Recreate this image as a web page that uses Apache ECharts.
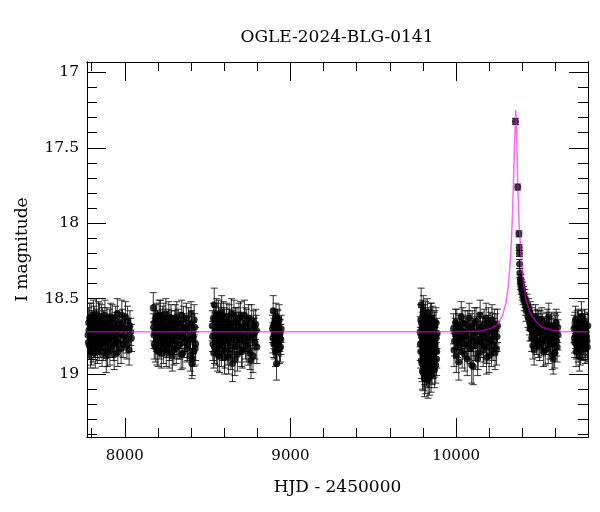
<!DOCTYPE html>
<html>
<head>
<meta charset="utf-8">
<title>OGLE-2024-BLG-0141</title>
<script src="https://cdn.jsdelivr.net/npm/echarts@6/dist/echarts.min.js"></script>
<style>
  html, body { margin: 0; padding: 0; background: #fff; }
  #chart { width: 600px; height: 512px; }
</style>
</head>
<body>
<div id="chart"></div>
<script type="text/javascript">
// photometry: [HJD-2450000, I mag, error]
var season1 = [[7778,18.74,0.09],[7782,18.66,0.10],[7786,18.81,0.09],[7790,18.70,0.08],[7794,18.86,0.10],[7797,18.62,0.09],[7801,18.76,0.08],[7805,18.69,0.10],[7809,18.83,0.09],[7812,18.72,0.08],[7816,18.64,0.09],[7820,18.79,0.10],[7824,18.71,0.08],[7828,18.60,0.10],[7832,18.77,0.09],[7836,18.84,0.09],[7840,18.68,0.08],[7844,18.74,0.09],[7848,18.63,0.10],[7853,18.80,0.09],[7857,18.70,0.08],[7861,18.75,0.09],[7866,18.66,0.10],[7870,18.82,0.09],[7875,18.72,0.08],[7880,18.61,0.10],[7885,18.78,0.09],[7890,18.69,0.08],[7896,18.85,0.10],[7901,18.73,0.09],[7907,18.65,0.08],[7912,18.80,0.09],[7918,18.71,0.10],[7924,18.63,0.09],[7930,18.77,0.08],[7936,18.87,0.10],[7942,18.68,0.09],[7948,18.74,0.08],[7955,18.60,0.10],[7962,18.79,0.09],[7970,18.70,0.08],[7978,18.83,0.10],[7986,18.66,0.09],[7995,18.75,0.09],[8004,18.62,0.10],[8013,18.81,0.09],[8022,18.71,0.08],[8031,18.68,0.10],[8040,18.76,0.09],
  [7780,18.79,0.10],[7784,18.71,0.09],[7788,18.63,0.10],[7792,18.77,0.09],[7799,18.84,0.10],[7803,18.67,0.09],[7807,18.73,0.09],[7811,18.61,0.10],[7814,18.80,0.09],[7818,18.70,0.08],[7822,18.86,0.10],[7826,18.74,0.09],[7830,18.66,0.09],[7834,18.72,0.08],[7838,18.78,0.09],[7842,18.62,0.10],[7846,18.82,0.09],[7851,18.69,0.09],[7855,18.76,0.08],[7859,18.64,0.10],[7863,18.85,0.10],[7868,18.71,0.09],[7872,18.67,0.09],[7878,18.79,0.09],[7883,18.73,0.08],[7888,18.88,0.11],[7893,18.65,0.09],[7899,18.77,0.09],[7904,18.70,0.08],[7910,18.84,0.10],[7915,18.62,0.09],[7921,18.75,0.09],[7927,18.69,0.08],[7933,18.81,0.10],[7939,18.72,0.09],[7945,18.64,0.09],[7951,18.78,0.09],[7958,18.85,0.10],[7966,18.67,0.09],[7974,18.73,0.09],[7982,18.61,0.10],[7990,18.80,0.09],[7999,18.70,0.09],[8008,18.77,0.09],[8017,18.65,0.10],[8026,18.84,0.10],[8036,18.72,0.09]];
var season2 = [[8172,18.56,0.10],[8176,18.74,0.09],[8180,18.66,0.08],[8184,18.82,0.10],[8188,18.70,0.09],[8193,18.62,0.09],[8197,18.77,0.08],[8201,18.85,0.10],[8206,18.68,0.09],[8210,18.73,0.08],[8215,18.61,0.10],[8219,18.79,0.09],[8224,18.71,0.08],[8229,18.64,0.09],[8233,18.83,0.10],[8238,18.69,0.08],[8243,18.76,0.09],[8248,18.60,0.10],[8253,18.80,0.09],[8258,18.72,0.08],[8263,18.66,0.09],[8268,18.86,0.10],[8274,18.70,0.08],[8279,18.63,0.09],[8285,18.78,0.09],[8290,18.74,0.08],[8296,18.84,0.10],[8302,18.67,0.09],[8308,18.71,0.08],[8314,18.62,0.10],[8320,18.81,0.09],[8326,18.75,0.08],[8333,18.68,0.09],[8340,18.87,0.10],[8347,18.73,0.08],[8354,18.64,0.09],[8361,18.79,0.10],[8368,18.70,0.08],[8376,18.83,0.09],[8384,18.66,0.10],[8392,18.77,0.09],[8400,18.60,0.08],[8405,18.93,0.10],[8410,18.74,0.09],[8416,18.85,0.10],[8422,18.69,0.09],[8428,18.80,0.11],
  [8174,18.69,0.09],[8178,18.80,0.10],[8182,18.72,0.09],[8186,18.63,0.09],[8191,18.76,0.09],[8195,18.84,0.10],[8199,18.67,0.09],[8203,18.74,0.09],[8208,18.61,0.10],[8212,18.81,0.09],[8217,18.70,0.09],[8221,18.86,0.10],[8226,18.66,0.09],[8231,18.75,0.09],[8236,18.63,0.10],[8240,18.79,0.09],[8245,18.71,0.09],[8250,18.85,0.10],[8255,18.68,0.09],[8260,18.77,0.09],[8266,18.62,0.10],[8271,18.82,0.09],[8276,18.73,0.09],[8282,18.67,0.09],[8287,18.88,0.10],[8293,18.70,0.09],[8299,18.78,0.09],[8305,18.64,0.10],[8311,18.83,0.10],[8317,18.72,0.09],[8323,18.66,0.09],[8330,18.80,0.10],[8337,18.74,0.09],[8344,18.61,0.10],[8350,18.86,0.10],[8357,18.69,0.09],[8364,18.76,0.09],[8372,18.63,0.10],[8380,18.81,0.10],[8388,18.71,0.09],[8396,18.88,0.10],[8403,18.67,0.09],[8408,18.90,0.11],[8413,18.76,0.10],[8419,18.64,0.10],[8425,18.83,0.11]];
var season3 = [[8528,18.68,0.10],[8532,18.80,0.11],[8537,18.86,0.10],[8540,18.54,0.11],[8544,18.73,0.10],[8548,18.64,0.09],[8553,18.83,0.11],[8557,18.70,0.10],[8562,18.76,0.09],[8566,18.61,0.10],[8571,18.88,0.11],[8575,18.69,0.10],[8580,18.74,0.09],[8585,18.59,0.11],[8590,18.81,0.10],[8595,18.72,0.09],[8600,18.66,0.10],[8605,18.85,0.11],[8611,18.70,0.10],[8616,18.62,0.09],[8622,18.78,0.10],[8627,18.89,0.11],[8633,18.67,0.10],[8638,18.74,0.09],[8644,18.60,0.10],[8650,18.93,0.12],[8656,18.71,0.10],[8662,18.82,0.10],[8668,18.65,0.09],[8674,18.77,0.10],[8680,18.87,0.11],[8686,18.69,0.10],[8692,18.73,0.09],[8699,18.62,0.10],[8705,18.84,0.11],[8712,18.70,0.10],[8719,18.76,0.09],[8726,18.66,0.10],[8733,18.81,0.11],[8740,18.72,0.10],[8748,18.63,0.09],[8755,18.86,0.11],[8762,18.91,0.12],[8770,18.74,0.10],[8778,18.68,0.10],[8786,18.79,0.11],[8794,18.71,0.10],
  [8530,18.75,0.10],[8535,18.63,0.10],[8542,18.82,0.11],[8546,18.69,0.10],[8551,18.77,0.10],[8555,18.60,0.10],[8560,18.87,0.11],[8564,18.72,0.10],[8569,18.66,0.10],[8573,18.80,0.10],[8578,18.63,0.10],[8583,18.84,0.11],[8588,18.70,0.10],[8592,18.77,0.10],[8597,18.62,0.10],[8602,18.89,0.11],[8608,18.74,0.10],[8613,18.67,0.10],[8619,18.83,0.11],[8624,18.71,0.10],[8630,18.64,0.10],[8635,18.79,0.10],[8641,18.86,0.11],[8647,18.68,0.10],[8653,18.75,0.10],[8659,18.61,0.10],[8665,18.90,0.11],[8671,18.72,0.10],[8677,18.66,0.10],[8683,18.81,0.11],[8689,18.63,0.10],[8696,18.77,0.10],[8702,18.69,0.10],[8709,18.85,0.11],[8716,18.73,0.10],[8722,18.61,0.10],[8729,18.79,0.11],[8736,18.67,0.10],[8744,18.83,0.11],[8751,18.71,0.10],[8758,18.76,0.10],[8766,18.64,0.10],[8774,18.88,0.11],[8782,18.73,0.10],[8790,18.67,0.10],[8797,18.82,0.11]];
var season4 = [[8892,18.70,0.09],[8896,18.58,0.10],[8899,18.80,0.09],[8903,18.66,0.09],[8906,18.74,0.10],[8910,18.85,0.10],[8913,18.62,0.09],[8916,18.93,0.11],[8920,18.72,0.09],[8924,18.68,0.10],[8928,18.79,0.09],[8932,18.64,0.10],[8936,18.76,0.09],[8940,18.82,0.10],[8944,18.70,0.09],
  [8894,18.76,0.10],[8898,18.68,0.09],[8901,18.73,0.10],[8905,18.80,0.10],[8908,18.69,0.09],[8911,18.77,0.10],[8915,18.71,0.09],[8918,18.84,0.10],[8922,18.66,0.09],[8926,18.75,0.10],[8930,18.71,0.09],[8934,18.83,0.10],[8938,18.73,0.09],[8942,18.77,0.10]];
var season5 = [[9783,18.72,0.10],[9786,18.85,0.11],[9789,18.54,0.11],[9791,18.66,0.10],[9794,18.93,0.12],[9796,18.78,0.10],[9799,18.61,0.10],[9801,18.99,0.12],[9804,18.70,0.10],[9806,18.83,0.11],[9809,19.03,0.12],[9811,18.64,0.10],[9814,18.76,0.10],[9816,18.90,0.11],[9819,18.68,0.10],[9821,18.96,0.12],[9824,18.73,0.10],[9826,18.60,0.10],[9829,18.87,0.11],[9831,19.04,0.12],[9834,18.79,0.10],[9836,18.67,0.10],[9839,18.94,0.12],[9841,18.74,0.10],[9844,18.82,0.11],[9846,18.63,0.10],[9849,19.00,0.12],[9851,18.71,0.10],[9854,18.88,0.11],[9856,18.77,0.10],[9859,18.65,0.10],[9861,18.92,0.11],[9864,18.80,0.10],[9867,18.69,0.10],[9870,18.97,0.12],[9873,18.75,0.10],[9876,18.84,0.11],[9879,18.66,0.10],[9882,18.90,0.11],[9885,18.73,0.10],
  [9784,18.80,0.11],[9787,18.64,0.10],[9790,18.91,0.12],[9792,18.75,0.10],[9795,18.69,0.10],[9797,18.98,0.12],[9800,18.82,0.11],[9802,18.58,0.10],[9805,18.89,0.11],[9807,18.71,0.10],[9810,18.95,0.12],[9812,18.78,0.10],[9815,18.62,0.10],[9817,19.01,0.12],[9820,18.84,0.11],[9822,18.70,0.10],[9825,18.92,0.12],[9827,18.76,0.10],[9830,18.66,0.10],[9832,18.97,0.12],[9835,18.86,0.11],[9837,18.72,0.10],[9840,19.02,0.12],[9842,18.81,0.11],[9845,18.68,0.10],[9847,18.91,0.11],[9850,18.77,0.10],[9852,18.63,0.10],[9855,18.95,0.12],[9857,18.83,0.11],[9860,18.71,0.10],[9862,18.86,0.11],[9865,18.74,0.10],[9868,18.91,0.11],[9871,18.68,0.10],[9874,18.80,0.11],[9877,18.94,0.12],[9880,18.76,0.10],[9883,18.85,0.11]];
var season6 = [[9984,18.70,0.10],[9990,18.78,0.10],[9996,18.66,0.09],[10001,18.88,0.11],[10007,18.74,0.10],[10013,18.82,0.10],[10019,18.69,0.09],[10025,18.77,0.10],[10031,18.62,0.10],[10037,18.85,0.11],[10043,18.72,0.10],[10049,18.80,0.10],[10055,18.67,0.09],[10061,18.75,0.10],[10067,18.90,0.11],[10073,18.71,0.10],[10079,18.63,0.10],[10085,18.83,0.10],[10091,18.76,0.09],[10097,18.68,0.10],[10103,18.95,0.12],[10109,18.73,0.10],[10115,18.81,0.10],[10121,18.65,0.09],[10127,18.78,0.10],[10133,18.86,0.11],[10139,18.70,0.10],[10145,18.61,0.10],[10151,18.79,0.10],[10157,18.74,0.09],[10163,18.84,0.11],[10169,18.67,0.10],[10175,18.76,0.10],[10181,18.63,0.10],[10187,18.82,0.11],[10193,18.71,0.10],[10199,18.88,0.11],[10205,18.69,0.10],[10211,18.77,0.10],[10217,18.64,0.10],[10223,18.80,0.11],[10229,18.73,0.10],[10235,18.86,0.11],[10241,18.70,0.10],[10247,18.75,0.10],[10250,18.68,0.11],
  [9987,18.84,0.11],[9993,18.73,0.10],[10004,18.67,0.10],[10010,18.79,0.10],[10016,18.92,0.12],[10022,18.71,0.10],[10034,18.76,0.10],[10040,18.66,0.10],[10052,18.87,0.11],[10058,18.73,0.10],[10070,18.68,0.10],[10076,18.80,0.10],[10088,18.70,0.10],[10094,18.94,0.12],[10106,18.78,0.10],[10112,18.66,0.10],[10124,18.72,0.10],[10130,18.90,0.11],[10142,18.77,0.10],[10148,18.69,0.10],[10160,18.72,0.10],[10166,18.81,0.11],[10178,18.73,0.10],[10184,18.89,0.11],[10196,18.66,0.10],[10202,18.78,0.10],[10214,18.84,0.11],[10220,18.70,0.10],[10232,18.67,0.10],[10244,18.83,0.11]];
var peakPts = [[10358,17.325,0.02],[10372,17.76,0.02],[10379,18.07,0.02],[10381,18.16,0.02],[10382,18.20,0.02],[10383,18.27,0.03]];
var season7 = [[10385,18.33,0.03],[10387,18.37,0.03],[10389,18.40,0.04],[10391,18.38,0.04],[10393,18.43,0.04],[10395,18.41,0.04],[10398,18.46,0.05],[10401,18.44,0.05],[10404,18.49,0.05],[10407,18.47,0.05],[10411,18.52,0.06],[10415,18.50,0.06],[10419,18.55,0.06],[10423,18.58,0.07],[10428,18.54,0.07],[10433,18.62,0.07],[10438,18.57,0.07],[10443,18.66,0.08],[10448,18.60,0.08],[10453,18.70,0.08],[10458,18.64,0.08],[10463,18.81,0.09],[10468,18.68,0.08],[10474,18.74,0.09],[10480,18.62,0.08],[10486,18.78,0.09],[10492,18.70,0.08],[10498,18.66,0.08],[10504,18.82,0.09],[10510,18.73,0.09],[10517,18.64,0.08],[10524,18.77,0.09],[10531,18.70,0.08],[10538,18.84,0.10],[10545,18.68,0.09],[10552,18.75,0.09],[10559,18.62,0.09],[10566,18.80,0.10],[10573,18.72,0.09],[10580,18.87,0.10],[10586,18.90,0.10],[10592,18.69,0.09],[10598,18.76,0.10],[10604,18.66,0.09],[10610,18.82,0.10],[10615,18.74,0.10],
  [10441,18.63,0.08],[10446,18.70,0.08],[10451,18.62,0.08],[10456,18.76,0.09],[10461,18.66,0.08],[10466,18.73,0.09],[10471,18.84,0.10],[10477,18.69,0.09],[10483,18.72,0.09],[10489,18.65,0.08],[10495,18.80,0.09],[10501,18.71,0.09],[10507,18.67,0.09],[10514,18.79,0.09],[10521,18.69,0.09],[10528,18.85,0.10],[10535,18.72,0.09],[10542,18.78,0.09],[10549,18.66,0.09],[10556,18.83,0.10],[10563,18.71,0.09],[10570,18.77,0.10],[10577,18.68,0.09],[10583,18.80,0.10],[10589,18.74,0.10],[10595,18.86,0.10],[10601,18.71,0.10],[10607,18.78,0.10],[10613,18.69,0.10]];
var season8 = [[10712,18.70,0.09],[10716,18.79,0.10],[10720,18.64,0.09],[10724,18.85,0.10],[10728,18.73,0.09],[10732,18.67,0.09],[10736,18.82,0.10],[10740,18.76,0.09],[10744,18.88,0.10],[10748,18.69,0.09],[10752,18.74,0.09],[10756,18.62,0.10],[10760,18.80,0.10],[10765,18.71,0.09],[10770,18.77,0.10],[10775,18.66,0.09],[10780,18.83,0.10],[10785,18.72,0.09],[10790,18.78,0.10],[10795,18.68,0.09],
  [10714,18.76,0.10],[10718,18.68,0.09],[10722,18.74,0.09],[10726,18.80,0.10],[10730,18.71,0.09],[10734,18.76,0.10],[10738,18.66,0.09],[10742,18.79,0.10],[10746,18.73,0.09],[10750,18.84,0.10],[10754,18.70,0.09],[10758,18.76,0.10],[10762,18.67,0.09],[10767,18.81,0.10],[10772,18.73,0.09],[10777,18.79,0.10],[10782,18.69,0.09],[10787,18.75,0.10],[10792,18.82,0.10]];

// model curve, points
var modelCurve = [[7772,18.72],[10000,18.72],[10150,18.715],[10205,18.70],[10250,18.67],[10280,18.61],[10300,18.53],[10315,18.42],[10330,18.20],[10340,17.95],[10348,17.65],[10355,17.40],[10360,17.25],[10366,17.45],[10372,17.75],[10380,18.00],[10391,18.20],[10405,18.38],[10420,18.50],[10445,18.59],[10480,18.65],[10520,18.69],[10580,18.71],[10650,18.72],[10796,18.72]];

var xMajor = [8000, 9000, 10000];
var xMinor = [7800, 8200, 8400, 8600, 8800, 9200, 9400, 9600, 9800, 10200, 10400, 10600];
var yMajor = [17, 17.5, 18, 18.5, 19];
var yMinor = [17.1, 17.2, 17.3, 17.4, 17.6, 17.7, 17.8, 17.9, 18.1, 18.2, 18.3, 18.4, 18.6, 18.7, 18.8, 18.9, 19.1, 19.2, 19.3, 19.4];

var XMIN = 7772, XMAX = 10796;
var YMIN = 16.931, YMAX = 19.417;
var font = 'DejaVu Serif';

var allPts = season1.concat(season2, season3, season4, season5, season6, peakPts, season7, season8);

var chart = echarts.init(document.getElementById('chart'));

function xAx(pos, vals, len, withLabel) {
	var a = {
		type: 'value', position: pos, min: XMIN, max: XMAX,
		axisLine: { show: true, lineStyle: { color: '#000', width: 1 } },
		splitLine: { show: false },
		axisTick: { inside: true, length: len, customValues: vals, lineStyle: { color: '#000' } },
		axisLabel: { show: false }
	};
	if (withLabel) {
		a.axisLabel = { show: true, customValues: vals, fontFamily: font, fontSize: 15, color: '#000', margin: 12,
			formatter: function (v) { return String(v); } };
		a.name = 'HJD - 2450000';
		a.nameLocation = 'middle';
		a.nameGap = 42;
		a.nameTextStyle = { fontFamily: font, fontSize: 17, color: '#000' };
	}
	return a;
}
function yAx(pos, vals, len, withLabel) {
	var a = {
		type: 'value', position: pos, min: YMIN, max: YMAX, inverse: true,
		axisLine: { show: true, lineStyle: { color: '#000', width: 1 } },
		splitLine: { show: false },
		axisTick: { inside: true, length: len, customValues: vals, lineStyle: { color: '#000' } },
		axisLabel: { show: false }
	};
	if (withLabel) {
		a.axisLabel = { show: true, customValues: vals, fontFamily: font, fontSize: 15.5, color: '#000', margin: 8 };
		a.name = 'I magnitude';
		a.nameLocation = 'middle';
		a.nameGap = 56;
		a.nameTextStyle = { fontFamily: font, fontSize: 17, color: '#000' };
	}
	return a;
}

function renderErr(params, api) {
	var x = api.value(0), m = api.value(1), e = api.value(2);
	var p1 = api.coord([x, m - e]);
	var p2 = api.coord([x, m + e]);
	var w = 3.5;
	var st = { stroke: '#000', lineWidth: 1, opacity: 0.8 };
	return {
		type: 'group',
		children: [
			{ type: 'line', shape: { x1: p1[0], y1: p1[1], x2: p2[0], y2: p2[1] }, style: st },
			{ type: 'line', shape: { x1: p1[0] - w, y1: p1[1], x2: p1[0] + w, y2: p1[1] }, style: st },
			{ type: 'line', shape: { x1: p2[0] - w, y1: p2[1], x2: p2[0] + w, y2: p2[1] }, style: st }
		]
	};
}

chart.setOption({
	animation: false,
	backgroundColor: '#fff',
	title: {
		text: 'OGLE-2024-BLG-0141',
		left: 332, top: 24, textAlign: 'center',
		textStyle: { fontFamily: font, fontSize: 17, fontWeight: 'normal', color: '#000' }
	},
	grid: { left: 87, right: 12, top: 62, bottom: 75 },
	xAxis: [
		xAx('bottom', xMajor, 19, true),
		xAx('bottom', xMinor, 9, false),
		xAx('top', xMajor, 19, false),
		xAx('top', xMinor, 9, false)
	],
	yAxis: [
		yAx('left', yMajor, 19, true),
		yAx('left', yMinor, 10, false),
		yAx('right', yMajor, 19, false),
		yAx('right', yMinor, 10, false)
	],
	series: [
		{
			type: 'custom', renderItem: renderErr, data: allPts,
			encode: { x: 0, y: [1, 2] }, clip: true, z: 2
		},
		{
			type: 'scatter', data: allPts, symbol: 'circle', symbolSize: 7,
			itemStyle: { color: '#000' }, clip: true, z: 3
		},
		{
			type: 'line', data: modelCurve, showSymbol: false, clip: true, z: 4,
			lineStyle: { color: '#ff00ff', width: 1.5, opacity: 0.6 }
		}
	]
});
</script>
</body>
</html>
